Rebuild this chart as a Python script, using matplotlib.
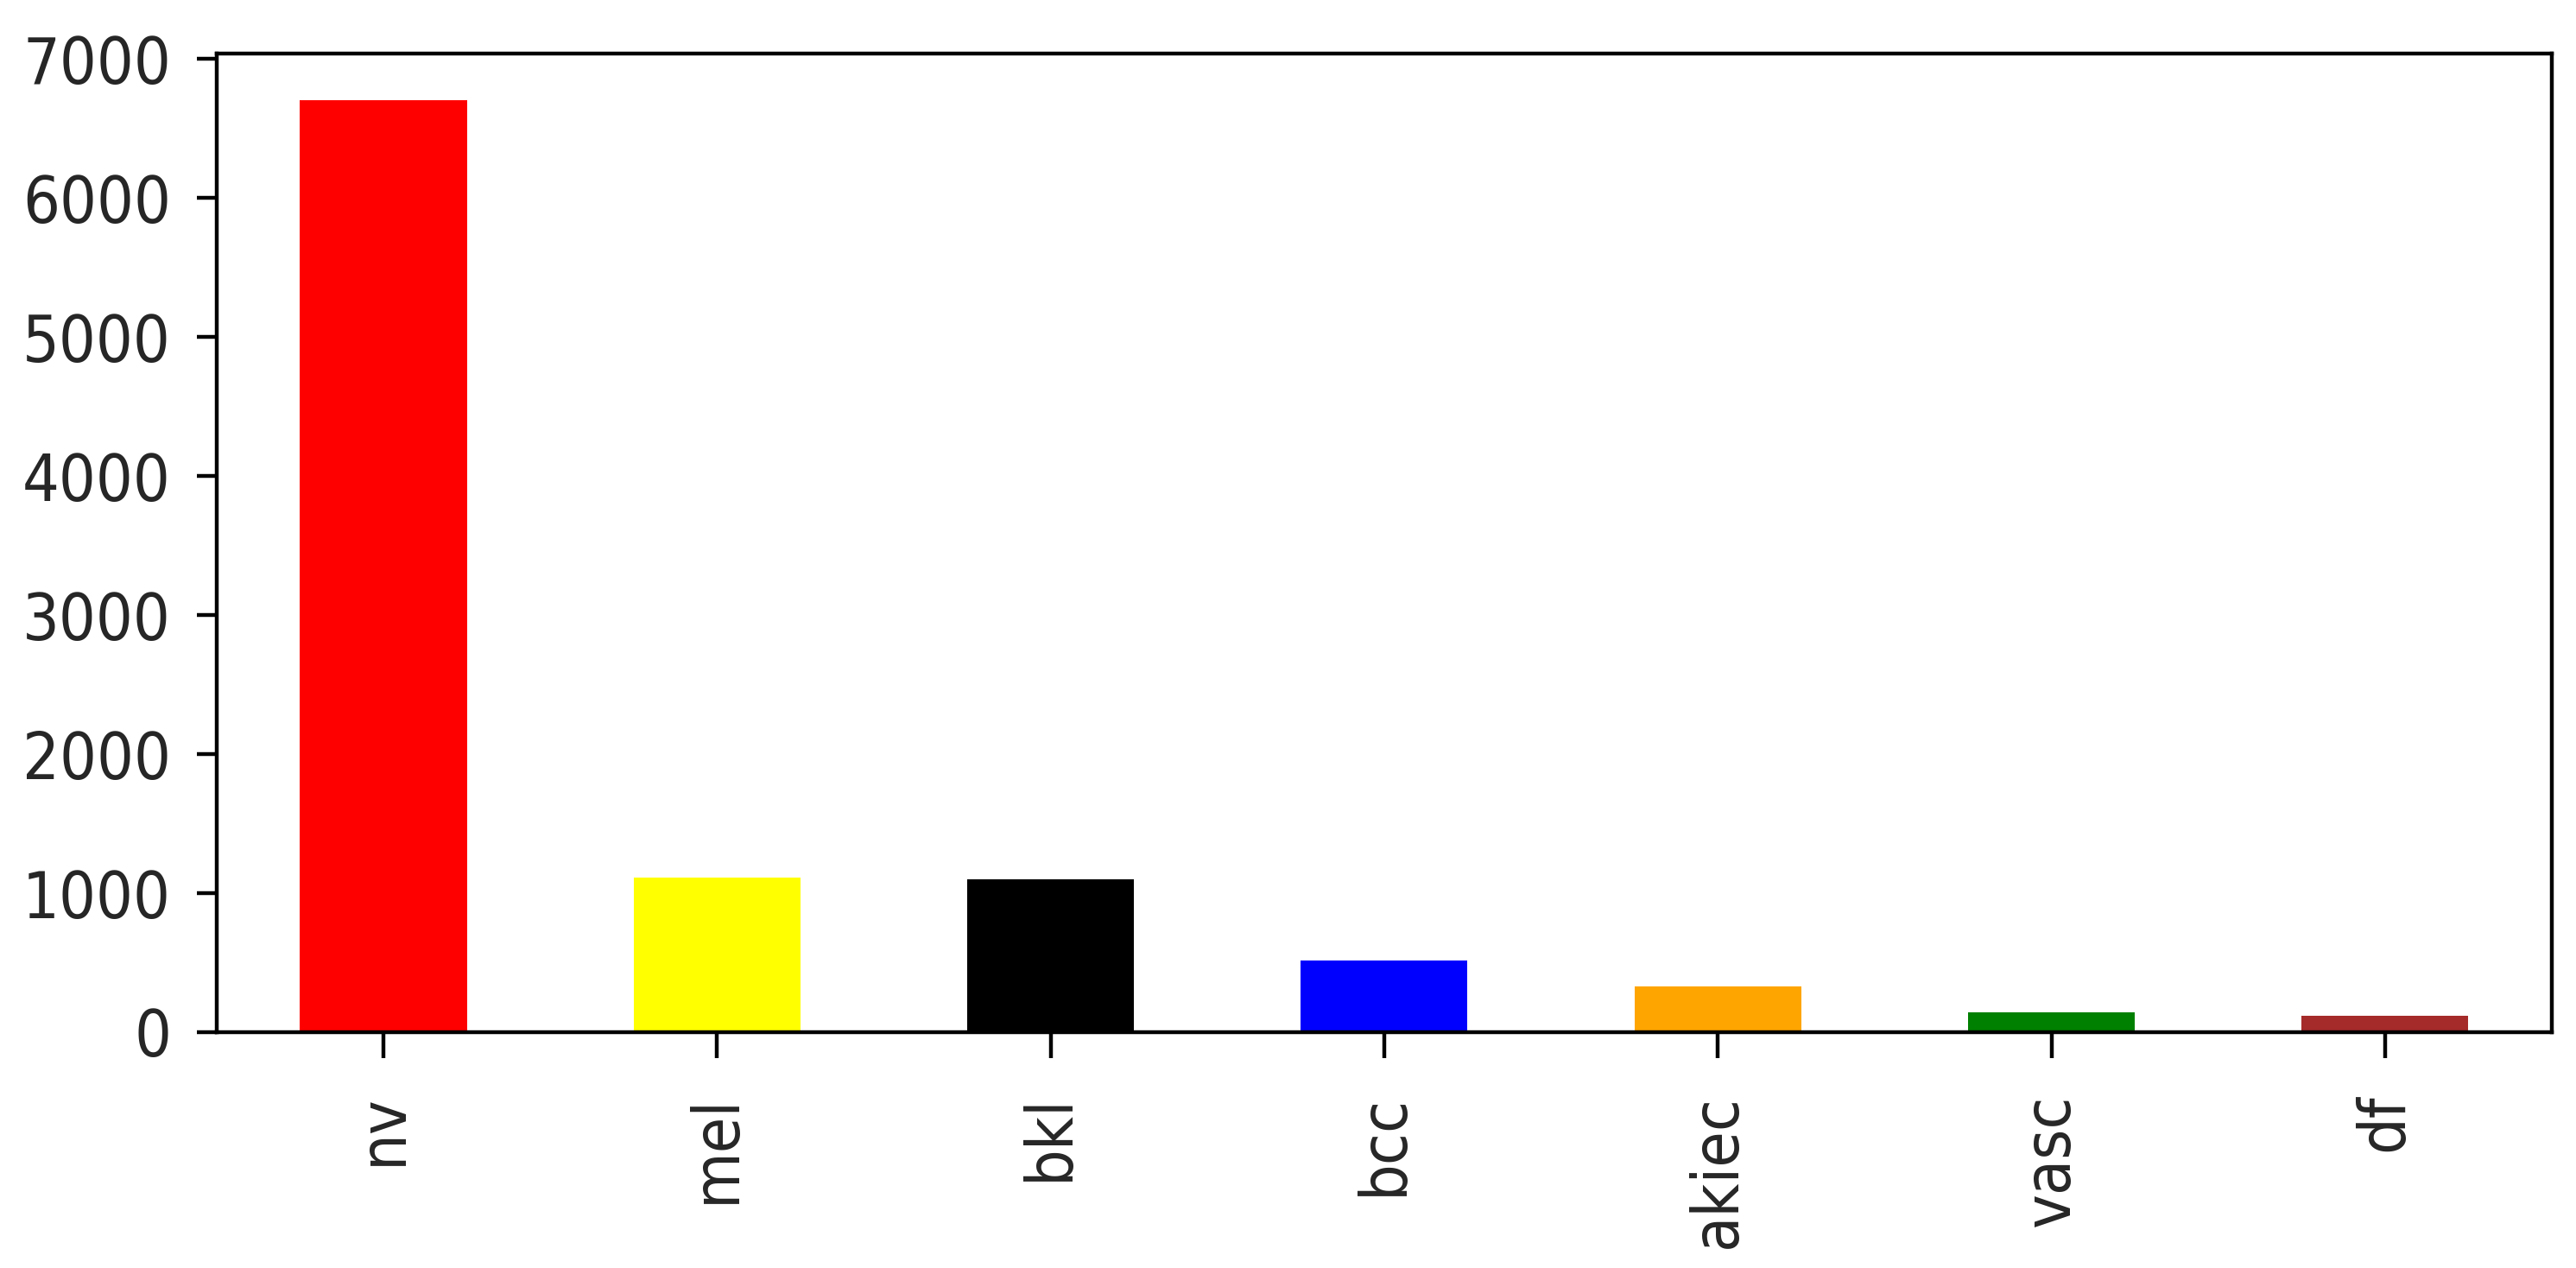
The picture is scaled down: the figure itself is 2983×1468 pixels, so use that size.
import matplotlib
matplotlib.use("Agg")
import matplotlib.pyplot as plt

# HAM10000 lesion type counts
labels = ["nv", "mel", "bkl", "bcc", "akiec", "vasc", "df"]
counts = [6705, 1113, 1099, 514, 327, 142, 115]
colors = ["red", "yellow", "black", "blue", "orange", "green", "brown"]

plt.rcParams["font.stretch"] = "condensed"

fig, ax = plt.subplots(figsize=(7.4575, 3.67), dpi=400)
fig.subplots_adjust(left=0.0841, right=0.9906, top=0.9578, bottom=0.186)

x = range(len(labels))
ax.bar(x, counts, width=0.5, color=colors)
ax.set_xticks(list(x))
ax.set_xticklabels(labels, rotation=90)
ax.set_xlim(-0.5, len(labels) - 0.5)
ax.set_ylim(0, max(counts) * 1.05)

for lbl in ax.get_xticklabels() + ax.get_yticklabels():
    lbl.set_fontsize(13.5)
    lbl.set_fontstretch("condensed")
    lbl.set_color("#262626")
ax.tick_params(axis="x", length=5.4, pad=7.5)
ax.tick_params(axis="y", length=4.2, pad=5.3)

fig.savefig("out.png", dpi=400)
